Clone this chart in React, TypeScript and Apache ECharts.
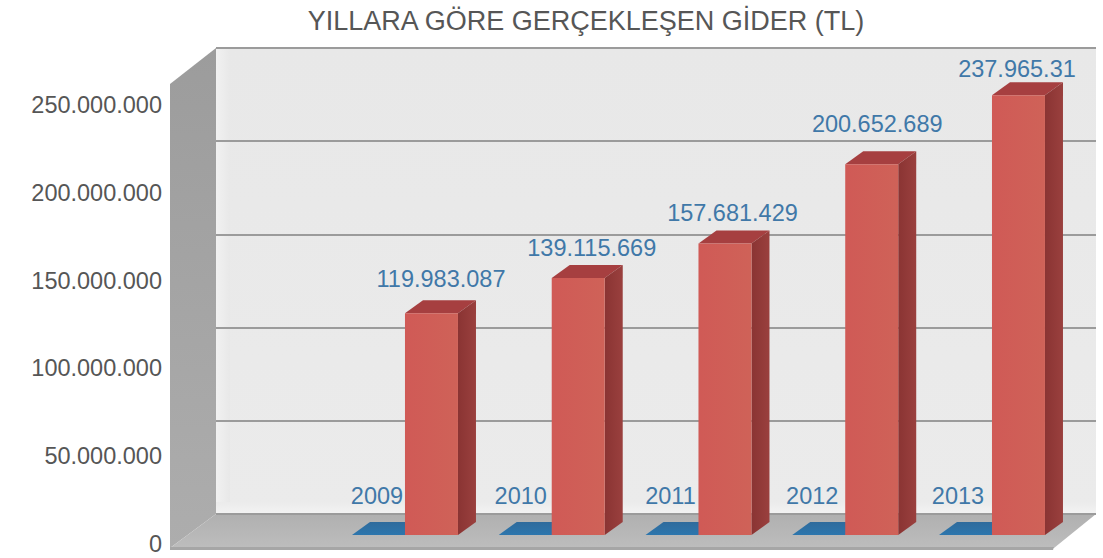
import React, { useEffect, useRef } from "react";
import * as echarts from "echarts";

const titleText = "YILLARA GÖRE GERÇEKLEŞEN GİDER (TL)";
const years = ["2009", "2010", "2011", "2012", "2013"];
const yearValues = [2009, 2010, 2011, 2012, 2013];
const spending = [119983087, 139115669, 157681429, 200652689, 237965310];
const spendingLabels = ["119.983.087", "139.115.669", "157.681.429", "200.652.689", "237.965.31"];
const axisMax = 250000000;
const axisStep = 50000000;

const yearNudge = [[-28, -39], [-31, -39], [-28, -39], [-33, -39], [-34, -39]];
const valueNudge = [[36, -34], [40, -30], [34, -31], [32, -40], [25, -26]];

const BAR_W = 53;
const BAR_DX = 18;
const BAR_DY = 13;
const WALL_DX = 46;
const WALL_DY = 34;
const FONT = "'Liberation Sans', Arial, sans-serif";
const v = (c0: string, c1: string, h = false) =>
  new echarts.graphic.LinearGradient(0, 0, h ? 1 : 0, h ? 0 : 1, [
    { offset: 0, color: c0 },
    { offset: 1, color: c1 },
  ]);

const poly = (points: number[][], fill: any) => ({
  type: "polygon",
  shape: { points },
  style: { fill },
});

function renderWalls(_: any, api: any) {
  const [l, b] = api.coord([0, 0]);
  const [r, t] = api.coord([1, axisMax]);
  const fl = l - WALL_DX;
  const fb = b + WALL_DY;
  const ft = t + 36;
  return {
    type: "group",
    children: [
      poly([[l, t], [r, t], [r, b], [l, b]], v("#e8e8e8", "#ebebeb")),
      { type: "rect", shape: { x: l, y: t, width: 14, height: b - t }, style: { fill: v("#f1f1f1", "#e8e8e8", true) } },
      { type: "rect", shape: { x: l, y: b - 12, width: r - l, height: 12 }, style: { fill: v("#ebebeb", "#f3f3f3") } },
      poly([[fl, ft], [l, t], [l, b], [fl, fb]], v("#9c9c9c", "#adadad")),
      poly([[fl, fb], [l, b], [r, b], [r - 42, fb]], v("#b0b0b0", "#bdbdbd")),
      poly([[fl, fb - 1], [r - 42, fb - 1], [r - 43, fb + 2], [fl, fb + 2]], "#a6a6a6"),
    ],
  };
}

function renderYearBar(_: any, api: any) {
  const i = api.value(0);
  const [x, y] = api.coord([i, api.value(1)]);
  const x0 = x - BAR_W;
  return {
    type: "group",
    children: [
      poly([[x0, y], [x0 + BAR_DX, y - BAR_DY], [x + BAR_DX, y - BAR_DY], [x, y]], v("#2f6b9c", "#2d76ad")),
      {
        type: "text",
        x: x + yearNudge[i][0],
        y: y + yearNudge[i][1],
        style: { text: years[i], fill: "#4078a8", font: `23.5px ${FONT}`, align: "center", verticalAlign: "middle" },
      },
    ],
  };
}

function renderValueBar(_: any, api: any) {
  const i = api.value(0);
  const [x, y] = api.coord([i, api.value(1)]);
  const [, y0] = api.coord([i, 0]);
  const xr = x + BAR_W;
  return {
    type: "group",
    children: [
      poly([[x, y], [x + BAR_DX, y - BAR_DY], [xr + BAR_DX, y - BAR_DY], [xr, y]], "#a63f40"),
      poly([[xr, y], [xr + BAR_DX, y - BAR_DY], [xr + BAR_DX, y0 - BAR_DY], [xr, y0]], v("#8a3433", "#9a403e", true)),
      poly([[x, y], [xr, y], [xr, y0], [x, y0]], v("#d05a56", "#cf6258", true)),
      {
        type: "text",
        x: x + valueNudge[i][0],
        y: y + valueNudge[i][1],
        style: { text: spendingLabels[i], fill: "#4078a8", font: `23.5px ${FONT}`, align: "center", verticalAlign: "middle" },
      },
    ],
  };
}

export default function App() {
  const ref = useRef<HTMLDivElement>(null);
  useEffect(() => {
    const chart = echarts.init(ref.current!, undefined, { renderer: "svg" });
    chart.setOption({
      animation: false,
      backgroundColor: "#ffffff",
      title: {
        text: titleText,
        left: 581,
        top: 2,
        textAlign: "center",
        textStyle: { color: "#565656", fontSize: 27, fontWeight: "normal", fontFamily: FONT },
      },
      grid: [
        { left: 216, width: 880, top: 48, height: 466 },
        { left: 331.6, width: 733.75, top: 73, height: 462 },
        { left: 164, width: 10, top: 105, height: 439 },
      ],
      xAxis: [
        { gridIndex: 0, type: "value", min: 0, max: 1, show: false },
        { gridIndex: 1, type: "category", data: years, show: false },
        { gridIndex: 2, type: "value", min: 0, max: 1, show: false },
      ],
      yAxis: [
        {
          gridIndex: 0,
          type: "value",
          min: 0,
          max: axisMax,
          interval: axisStep,
          z: 1,
          axisLine: { show: false },
          axisTick: { show: false },
          axisLabel: { show: false },
          splitLine: { show: true, lineStyle: { color: "#9b9b9b", width: 2 } },
        },
        { gridIndex: 1, type: "value", min: 0, max: axisMax, interval: axisStep, show: false },
        {
          gridIndex: 2,
          type: "value",
          min: 0,
          max: axisMax,
          interval: axisStep,
          axisLine: { show: false },
          axisTick: { show: false },
          splitLine: { show: false },
          axisLabel: {
            margin: 2,
            color: "#565656",
            fontSize: 23.5,
            fontFamily: FONT,
            formatter: (n: number) => String(n).replace(/\B(?=(\d{3})+(?!\d))/g, "."),
          },
        },
      ],
      series: [
        {
          type: "custom",
          xAxisIndex: 0,
          yAxisIndex: 0,
          z: 0,
          silent: true,
          renderItem: renderWalls,
          data: [[0, 0]],
        },
        {
          type: "custom",
          name: "Yıl",
          xAxisIndex: 1,
          yAxisIndex: 1,
          z: 2,
          renderItem: renderYearBar,
          encode: { x: 0, y: 1 },
          data: yearValues.map((val, i) => [i, val]),
        },
        {
          type: "custom",
          name: "Gider",
          xAxisIndex: 1,
          yAxisIndex: 1,
          z: 3,
          renderItem: renderValueBar,
          encode: { x: 0, y: 1 },
          data: spending.map((val, i) => [i, val]),
        },
      ],
    });
    return () => chart.dispose();
  }, []);
  return <div ref={ref} style={{ position: "fixed", left: 0, top: 0, width: 1103, height: 558 }} />;
}
